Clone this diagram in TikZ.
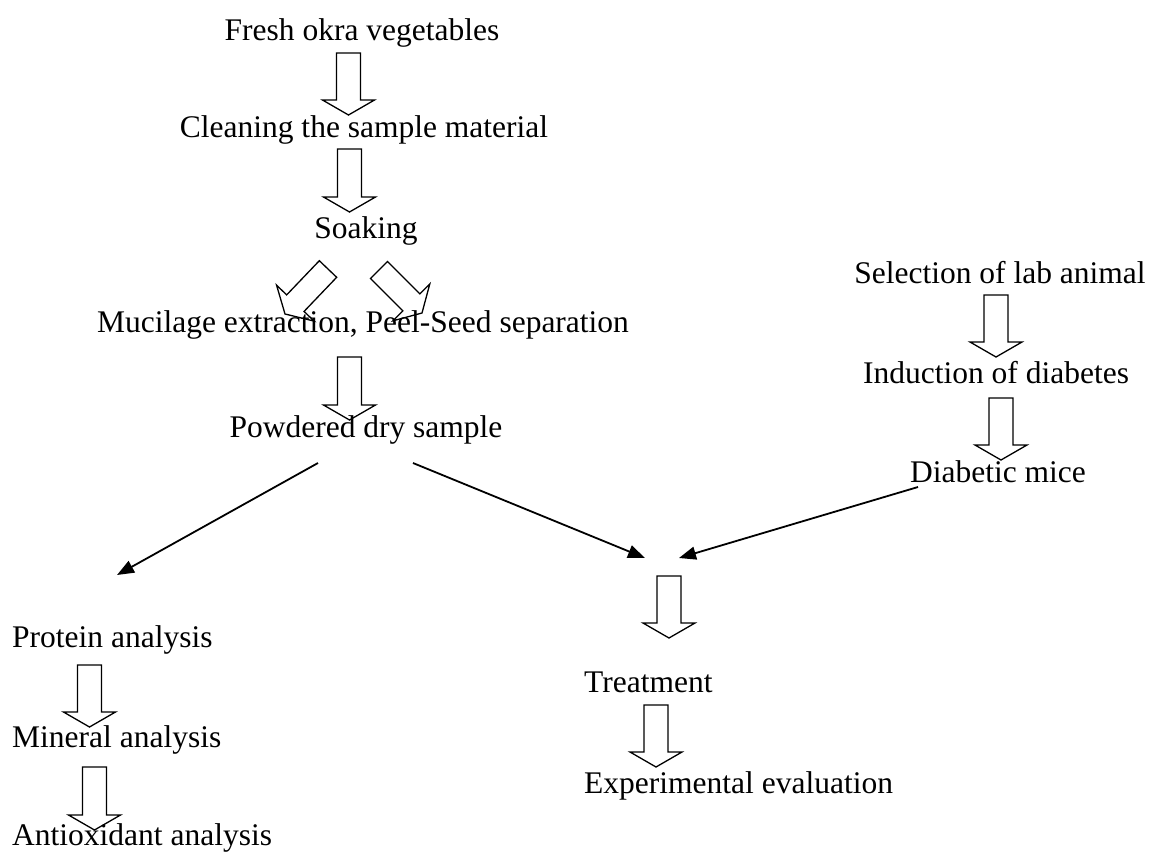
\documentclass[tikz,border=0pt]{standalone}
\usepackage{fontspec}
\setmainfont{Liberation Serif}
\usetikzlibrary{calc,arrows.meta}
\tikzset{
  lbl/.style={inner sep=0pt, font=\fontsize{31.5}{37}\selectfont},
  blockarrow/.style={draw=black, line width=1.3pt, line join=miter},
  thinarrow/.style={draw=black, line width=1.8pt, -{Triangle[length=17pt,width=13pt]}}
}
\newcommand\barrow[2]{%
  \draw[blockarrow] let \p1=(#1), \p2=(#2),
     \n1={veclen(\x2-\x1,\y2-\y1)}, \n2={atan2(\y2-\y1,\x2-\x1)}, \n3={\n1-15pt} in
     [shift={(\p1)}, rotate=\n2]
     (0pt,12pt) -- (\n3,12pt) -- (\n3,26pt) -- (\n1,0pt) -- (\n3,-26pt)
     -- (\n3,-12pt) -- (0pt,-12pt) -- cycle;}
\begin{document}
\begin{tikzpicture}[x=1pt,y=-1pt]
\useasboundingbox (0,0) rectangle (1154,852);
% text nodes
\node[lbl,anchor=base] (fresh) at (362,40) {Fresh okra vegetables};
\node[lbl,anchor=base] (clean) at (364,137) {Cleaning the sample material};
\node[lbl,anchor=base] (soak) at (366,238) {Soaking};
\node[lbl,anchor=base] (muc) at (363,332) {Mucilage extraction, Peel-Seed separation};
\node[lbl,anchor=base] (pow) at (366,437) {Powdered dry sample};
\node[lbl,anchor=base] (sel) at (1000,283) {Selection of lab animal};
\node[lbl,anchor=base] (ind) at (996,383) {Induction of diabetes};
\node[lbl,anchor=base] (dia) at (998,482) {Diabetic mice};
\node[lbl,anchor=base west] (prot) at (12,647) {Protein analysis};
\node[lbl,anchor=base west] (min) at (12,747) {Mineral analysis};
\node[lbl,anchor=base west] (anti) at (12,845) {Antioxidant analysis};
\node[lbl,anchor=base west] (treat) at (584,692) {Treatment};
\node[lbl,anchor=base west] (eval) at (584,793) {Experimental evaluation};
% block arrow ends
\coordinate (a1s) at (348.5,53);  \coordinate (a1e) at (348.5,115);
\coordinate (a2s) at (349.5,149); \coordinate (a2e) at (349.5,212);
\coordinate (dls) at (328,269);   \coordinate (dle) at (285,314);
\coordinate (drs) at (379,270);   \coordinate (dre) at (422,313);
\coordinate (a3s) at (349.5,357); \coordinate (a3e) at (349.5,420);
\coordinate (a4s) at (996,295);   \coordinate (a4e) at (996,357);
\coordinate (a5s) at (1001,398);  \coordinate (a5e) at (1001,460);
\coordinate (a6s) at (669,576);   \coordinate (a6e) at (669,638);
\coordinate (a7s) at (656,705);   \coordinate (a7e) at (656,767);
\coordinate (a8s) at (89.5,665);  \coordinate (a8e) at (89.5,727);
\coordinate (a9s) at (94.5,767);  \coordinate (a9e) at (94.5,830);
\barrow{a1s}{a1e}
\barrow{a2s}{a2e}
\barrow{dls}{dle}
\barrow{drs}{dre}
\barrow{a3s}{a3e}
\barrow{a4s}{a4e}
\barrow{a5s}{a5e}
\barrow{a6s}{a6e}
\barrow{a7s}{a7e}
\barrow{a8s}{a8e}
\barrow{a9s}{a9e}
% thin arrows
\coordinate (l1s) at (318,463); \coordinate (l1e) at (117,575);
\coordinate (l2s) at (413,463); \coordinate (l2e) at (645,558);
\coordinate (l3s) at (918,487); \coordinate (l3e) at (679,558);
\draw[thinarrow] (l1s) -- (l1e);
\draw[thinarrow] (l2s) -- (l2e);
\draw[thinarrow] (l3s) -- (l3e);
\end{tikzpicture}
\end{document}
